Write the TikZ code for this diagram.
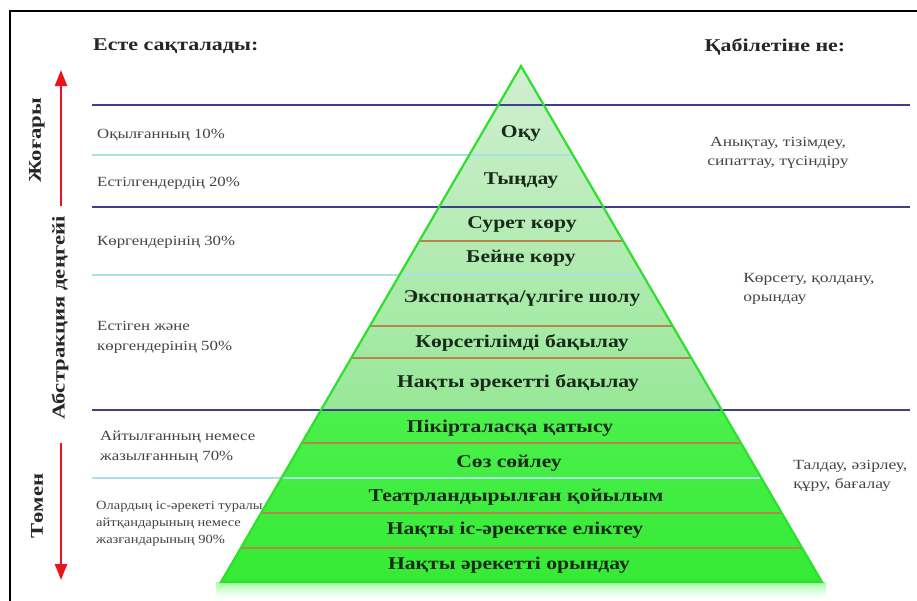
\documentclass[tikz,border=0pt]{standalone}
\usepackage{fontspec}
\setmainfont{Liberation Serif}
\usetikzlibrary{arrows.meta,calc}
\definecolor{navyline}{HTML}{3F3F8C}
\definecolor{cyanline}{HTML}{A8E2E2}
\definecolor{brownline}{HTML}{B8864A}
\definecolor{pyredge}{HTML}{2EE02E}
\definecolor{paletop}{HTML}{D2EFD2}
\definecolor{palebot}{HTML}{98E898}
\definecolor{brighttop}{HTML}{4CF04C}
\definecolor{brightbot}{HTML}{34EA34}
\definecolor{lefttext}{HTML}{444444}
\definecolor{pyrtext}{HTML}{1A2A1A}
\definecolor{arrowred}{HTML}{E8141E}
\tikzset{
  levellabel/.style={font=\bfseries\fontsize{18}{18}\selectfont, text=pyrtext, inner sep=0pt, xscale=1.2},
  headlabel/.style={font=\bfseries\fontsize{18}{18}\selectfont, text=black!85, inner sep=0pt, xscale=1.22},
  sidelabel/.style={font=\bfseries\fontsize{18}{18}\selectfont, text=black!85, inner sep=0pt, rotate=90, xscale=1.26},
  pcttext/.style={font=\fontsize{14}{20}\selectfont, text=lefttext, inner sep=0pt, align=left, anchor=west, xscale=1.2},
  smalltext/.style={font=\fontsize{12.5}{17}\selectfont, text=lefttext, inner sep=0pt, align=left, anchor=west, xscale=1.16},
  abiltext/.style={font=\fontsize{14}{19}\selectfont, text=lefttext, inner sep=0pt, align=left, xscale=1.25},
  navy/.style={draw=navyline, line width=2.6pt},
  cyanrule/.style={draw=cyanline, line width=1.6pt},
  brownrule/.style={draw=brownline, line width=1.3pt},
  redarrow/.style={draw=arrowred, line width=2.4pt, -{Triangle[length=16pt,width=12pt]}}
}
\begin{document}
\begin{tikzpicture}[x=1pt,y=-1pt]
\useasboundingbox (0,0) rectangle (917,600);
\fill[white] (0,0) rectangle (917,600);
% frame
\draw[line width=2pt] (10,605) -- (10,11) -- (922,11);

% pyramid corners
\coordinate (apex) at (521,66);
\coordinate (bl) at (221,582);
\coordinate (br) at (822,582);

% glow under base
\shade[top color=green!35, bottom color=white] (216,582) rectangle (826,597);

% fills
\begin{scope}
  \clip (apex) -- (bl) -- (br) -- cycle;
  \shade[top color=paletop, bottom color=palebot] (200,60) rectangle (850,410);
  \shade[top color=brighttop, bottom color=brightbot] (200,410) rectangle (850,590);
  \foreach \yy in {241,326,358,443,513,548} {
    \draw[brownrule] (200,\yy) -- (850,\yy);
  }
\end{scope}

% cyan rules from left to pyramid right edge
\foreach \yy/\xr in {155/572.9,275/642.9,478/761.3} {
  \draw[cyanrule] (92,\yy) -- (\xr,\yy);
}
% navy rules
\foreach \yy in {105,207,410} {
  \draw[navy] (92,\yy) -- (910,\yy);
}

% pyramid outline
\draw[draw=pyredge, line width=2.2pt, line join=miter] (apex) -- (bl) -- (br) -- cycle;

% pyramid labels
\node[levellabel] (l1) at (521,133) {Оқу};
\node[levellabel] (l2) at (521,181) {Тыңдау};
\node[levellabel] (l3) at (522,224) {Сурет көру};
\node[levellabel] (l4) at (521,258) {Бейне көру};
\node[levellabel] (l5) at (522,298) {Экспонатқа/үлгіге шолу};
\node[levellabel] (l6) at (522,343) {Көрсетілімді бақылау};
\node[levellabel] (l7) at (518,383) {Нақты әрекетті бақылау};
\node[levellabel] (l8) at (510,428) {Пікірталасқа қатысу};
\node[levellabel] (l9) at (509,463) {Сөз сөйлеу};
\node[levellabel] (l10) at (516,497) {Театрландырылған қойылым};
\node[levellabel] (l11) at (515,530) {Нақты іс-әрекетке еліктеу};
\node[levellabel] (l12) at (509,565) {Нақты әрекетті орындау};

% headings
\node[headlabel, anchor=west] (hleft) at (93,46) {Есте сақталады:};
\node[headlabel] (hright) at (775,47) {Қабілетіне не:};

% left percentages
\node[pcttext] (p1) at (97,135) {Оқылғанның 10\%};
\node[pcttext] (p2) at (97,183) {Естілгендердің 20\%};
\node[pcttext] (p3) at (97,242) {Көргендерінің 30\%};
\node[pcttext] (p4) at (97,337) {Естіген және\\көргендерінің 50\%};
\node[pcttext] (p5) at (100,447) {Айтылғанның немесе\\жазылғанның 70\%};
\node[smalltext] (p6) at (96,524) {Олардың іс-әрекеті туралы\\айтқандарының немесе\\жазғандарының 90\%};

% right abilities
\node[abiltext, align=center] (a1) at (778,153) {Анықтау, тізімдеу,\\сипаттау, түсіндіру};
\node[abiltext, anchor=west] (a2) at (743,289) {Көрсету, қолдану,\\орындау};
\node[abiltext, anchor=west] (a3) at (793,476) {Талдау, әзірлеу,\\құру, бағалау};

% side labels
\node[sidelabel] (s1) at (37,140) {Жоғары};
\node[sidelabel] (s2) at (60,318) {Абстракция деңгейі};
\node[sidelabel] (s3) at (37,506) {Төмен};

% red arrows
\coordinate (upbot) at (61,206);
\coordinate (uptop) at (61,70);
\coordinate (dntop) at (61,443);
\coordinate (dnbot) at (61,580);
\draw[redarrow] (upbot) -- (uptop);
\draw[redarrow] (dntop) -- (dnbot);
\end{tikzpicture}
\end{document}
